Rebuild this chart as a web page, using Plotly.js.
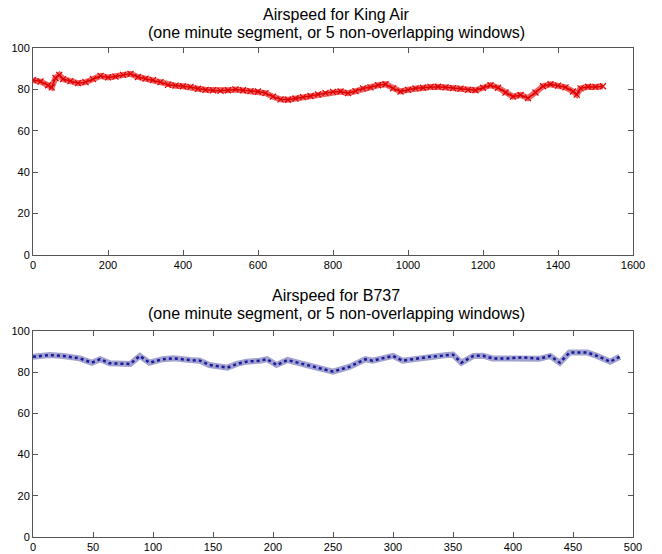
<!DOCTYPE html>
<html>
<head>
<meta charset="utf-8">
<script src="https://cdn.plot.ly/plotly-3.0.1.min.js"></script>
<style>html,body{margin:0;padding:0;background:#fff;}#chart{width:662px;height:554px;}</style>
</head>
<body>
<div id="chart"></div>
<script>
// King Air airspeed (sample index vs airspeed)
const kingAirX = [0,20,40,50,60,70,80,100,120,140,160,180,200,220,240,260,280,300,320,340,360,380,400,420,440,460,480,500,520,540,560,580,600,620,640,660,680,700,720,740,760,780,800,820,840,860,880,900,920,940,960,980,1000,1020,1040,1060,1080,1100,1120,1140,1160,1180,1200,1220,1240,1260,1280,1300,1320,1340,1360,1380,1400,1420,1440,1450,1460,1480,1500,1520];
const kingAirY = [84.5,83.8,82.0,81.0,85.5,87.0,85.0,84.0,83.0,83.5,85.0,86.5,85.8,86.2,87.0,87.5,86.0,85.2,84.5,83.5,82.2,81.8,81.5,81.2,80.3,79.8,79.5,79.3,79.6,80.0,79.6,79.2,79.0,78.2,76.5,75.2,75.0,75.6,76.3,76.8,77.6,78.3,78.8,79.0,78.2,79.2,80.5,81.0,82.0,82.5,80.5,79.0,79.8,80.5,80.8,81.2,81.3,81.0,80.6,80.4,79.8,79.6,80.8,82.0,80.8,78.5,76.5,77.3,75.8,78.5,81.5,82.5,81.8,81.0,79.0,77.5,80.5,81.3,81.2,81.5];

// B737 airspeed
const b737X = [0,14,25,39,49,56,64,72,81,89,97,108,117,131,139,147,162,170,178,189,195,203,212,228,239,250,264,277,283,300,308,320,331,339,345,350,357,367,375,383,395,408,422,431,439,447,462,470,481,489];
const b737Y = [87.5,88.3,87.9,86.7,84.6,86.3,84.3,84.3,84.0,87.9,84.6,86.3,86.7,85.9,85.6,83.5,82.2,84.0,85.1,85.6,86.3,83.5,85.9,83.5,81.9,80.3,82.7,86.3,85.6,87.9,85.6,86.7,87.5,87.9,88.3,88.5,84.6,87.9,88.0,86.7,86.7,87.2,86.5,87.9,84.6,89.5,89.5,87.9,85.1,87.5];

const titleTop1 = "Airspeed for King Air";
const titleTop2 = "(one minute segment, or 5 non-overlapping windows)";
const titleBot1 = "Airspeed for B737";
const titleBot2 = "(one minute segment, or 5 non-overlapping windows)";

const yTicks = [0,20,40,60,80,100];
const xTicksTop = [0,200,400,600,800,1000,1200,1400,1600];
const xTicksBot = [0,50,100,150,200,250,300,350,400,450,500];

const traces = [
  {x: kingAirX, y: kingAirY, xaxis:'x', yaxis:'y', mode:'lines', line:{color:'rgba(225,0,0,0.6)', width:6}, hoverinfo:'skip'},
  {x: kingAirX, y: kingAirY, xaxis:'x', yaxis:'y', mode:'lines+markers', line:{color:'#e00000', width:1.5},
   marker:{symbol:'x-thin-open', size:6, color:'#e00000', line:{width:1.2, color:'#e00000'}}},
  {x: b737X, y: b737Y, xaxis:'x2', yaxis:'y2', mode:'lines', line:{color:'rgba(100,100,175,0.6)', width:6}, hoverinfo:'skip'},
  {x: b737X, y: b737Y, xaxis:'x2', yaxis:'y2', mode:'lines', line:{color:'#1a1a9c', width:2.5, dash:'dot'}}
];

const tickFont = {family:'Liberation Sans, Arial, sans-serif', size:11, color:'#000'};
const axisCommon = {
  showgrid:false, zeroline:false, showline:true, linecolor:'#555', linewidth:1,
  mirror:'allticks', ticks:'inside', ticklen:5, tickcolor:'#555',
  tickfont: tickFont
};

const titleFont = {family:'Liberation Sans, Arial, sans-serif', size:16, color:'#000'};
const layout = {
  width:662, height:554,
  margin:{l:33, r:29, t:48, b:17},
  paper_bgcolor:'#fff', plot_bgcolor:'#fff',
  showlegend:false,
  xaxis: Object.assign({}, axisCommon, {domain:[0,1], range:[0,1600], tickvals:xTicksTop, anchor:'y'}),
  yaxis: Object.assign({}, axisCommon, {domain:[0.5767,1], range:[0,100], tickvals:yTicks, anchor:'x'}),
  xaxis2: Object.assign({}, axisCommon, {domain:[0,1], range:[0,500], tickvals:xTicksBot, anchor:'y2'}),
  yaxis2: Object.assign({}, axisCommon, {domain:[0,0.4213], range:[0,100], tickvals:yTicks, anchor:'x2'}),
  annotations: [
    {text:titleTop1, xref:'paper', yref:'paper', x:0.505, y:1.0675, showarrow:false, yanchor:'middle', font:titleFont},
    {text:titleTop2, xref:'paper', yref:'paper', x:0.505, y:1.0315, showarrow:false, yanchor:'middle', font:titleFont},
    {text:titleBot1, xref:'paper', yref:'paper', x:0.505, y:0.4930, showarrow:false, yanchor:'middle', font:titleFont},
    {text:titleBot2, xref:'paper', yref:'paper', x:0.505, y:0.4565, showarrow:false, yanchor:'middle', font:titleFont}
  ]
};

Plotly.newPlot('chart', traces, layout, {displayModeBar:false, staticPlot:true});
</script>
</body>
</html>
